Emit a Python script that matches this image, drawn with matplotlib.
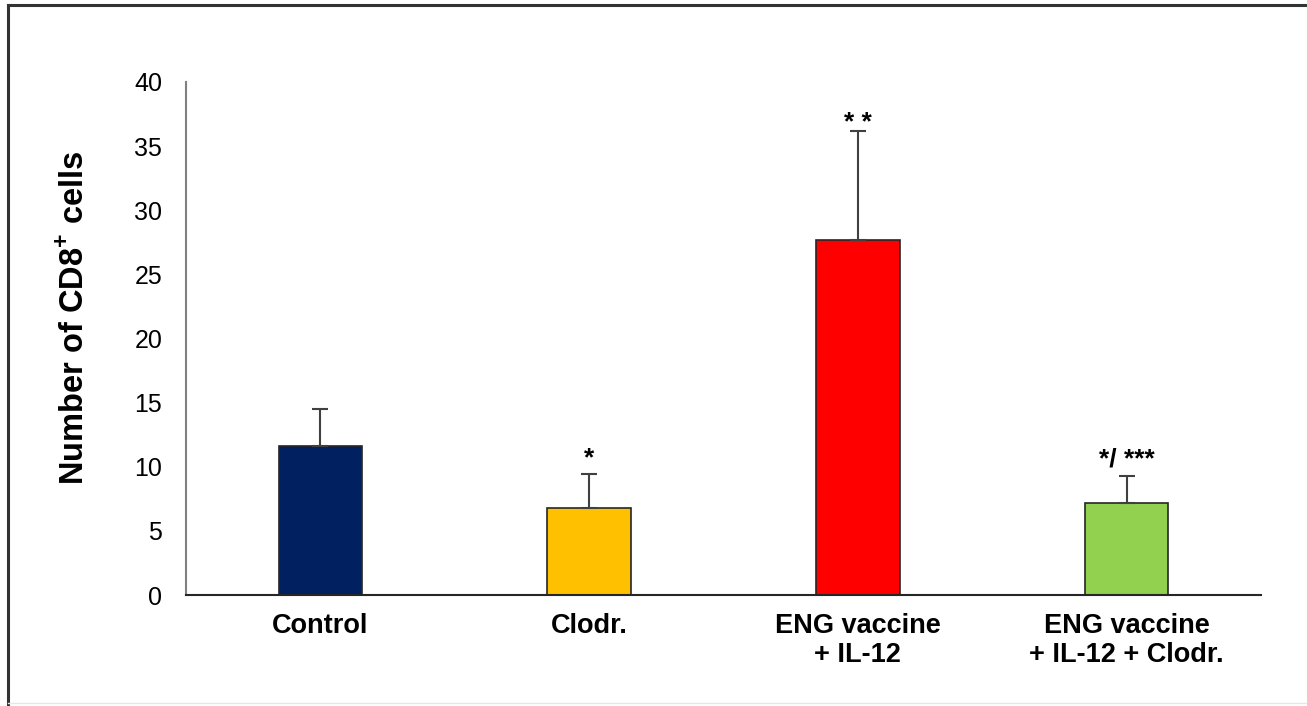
import matplotlib.pyplot as plt
from matplotlib.lines import Line2D

plt.rcParams['font.family'] = ['Liberation Sans', 'DejaVu Sans']
plt.rcParams['mathtext.fontset'] = 'custom'
plt.rcParams['mathtext.rm'] = 'Liberation Sans'
plt.rcParams['mathtext.bf'] = 'Liberation Sans:bold'

# CD8+ cell counts per group (mean and SD)
groups = ['Control', 'Clodr.', 'ENG vaccine\n+ IL-12', 'ENG vaccine\n+ IL-12 + Clodr.']
means = [11.6, 6.75, 27.7, 7.2]
errors = [2.9, 2.65, 8.5, 2.1]
colors = ['#002060', '#FFC000', '#FF0000', '#92D050']
stars = ['', '*', '* *', '*/ ***']

fig = plt.figure(figsize=(13.07, 7.06), dpi=100)
ax = fig.add_axes([0.1423, 0.1572, 0.8225, 0.7267])

x = range(len(groups))
ax.bar(x, means, width=0.31, color=colors, edgecolor='#262626', linewidth=1.2,
       yerr=[[0] * len(errors), errors], capsize=6,
       error_kw=dict(ecolor='#404040', elinewidth=1.5, capthick=1.5), zorder=2)

# significance marks above the error bars
star_gap = [0, 3, -3, 3]
for i, (m, e, s) in enumerate(zip(means, errors, stars)):
    if s:
        ax.annotate(s, (i, m + e), xytext=(0, star_gap[i]), textcoords='offset points',
                    ha='center', va='bottom', fontsize=19, fontweight='bold')

ax.set_xlim(-0.5, 3.5)
ax.set_ylim(0, 40)
ax.set_yticks(range(0, 41, 5))
ax.set_xticks(list(x))
ax.set_xticklabels(groups, fontsize=19.5, fontweight='bold', linespacing=1.15)
ax.tick_params(axis='y', length=0, labelsize=18, pad=17)
ax.tick_params(axis='x', length=0, pad=13)
ax.set_ylabel(r'Number of CD8$^{\mathbf{+}}$ cells', fontsize=23.5, fontweight='bold')
ax.yaxis.set_label_coords(-0.088, 0.54)

for side in ['top', 'right']:
    ax.spines[side].set_visible(False)
ax.spines['left'].set_color('#808080')
ax.spines['left'].set_linewidth(1.5)
ax.spines['bottom'].set_color('#262626')
ax.spines['bottom'].set_linewidth(1.5)

# outer frame lines
fig.add_artist(Line2D([0.0061, 1.0], [0.9929, 0.9929], transform=fig.transFigure, color='#333333', lw=2.2))
fig.add_artist(Line2D([0.0061, 0.0061], [0.0, 0.9929], transform=fig.transFigure, color='#333333', lw=2.2))
fig.add_artist(Line2D([0.0061, 1.0], [0.004, 0.004], transform=fig.transFigure, color='#e6e6e6', lw=1))

plt.savefig('out.png', dpi=100)
